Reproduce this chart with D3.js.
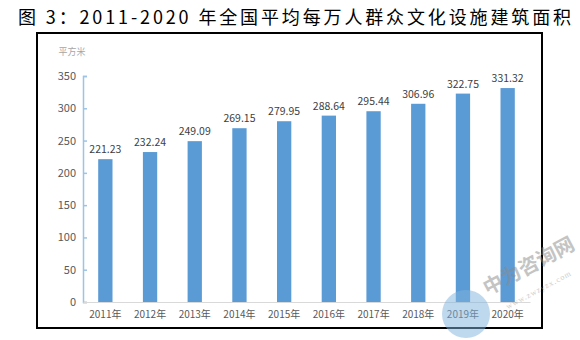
<!DOCTYPE html>
<html><head><meta charset="utf-8">
<script src="https://cdn.jsdelivr.net/npm/d3@7"></script>
<style>body{margin:0;background:#fff;}svg{display:block;}</style>
</head><body>
<script>
const years = ["2011年","2012年","2013年","2014年","2015年","2016年","2017年","2018年","2019年","2020年"];
const values = [221.23,232.24,249.09,269.15,279.95,288.64,295.44,306.96,322.75,331.32];
const yTicks = [0,50,100,150,200,250,300,350];
const title = "图 3：2011-2020 年全国平均每万人群众文化设施建筑面积";
const unit = "平方米";

const W = 580, H = 340;
const svg = d3.select("body").append("svg").attr("width", W).attr("height", H);
const font = "'Noto Sans CJK SC', 'Noto Sans', sans-serif";

svg.append("text").attr("x", 18).attr("y", 24)
  .attr("textLength", 553).attr("lengthAdjust", "spacing")
  .attr("font-family", font).attr("font-size", 18).attr("fill", "#000")
  .text(title);

svg.append("rect").attr("x", 37).attr("y", 33).attr("width", 505).attr("height", 295)
  .attr("fill", "none").attr("stroke", "#000").attr("stroke-width", 2);

const x = d3.scaleBand().domain(years).range([83, 530]).paddingInner(0.68).paddingOuter(0.34);
const y = d3.scaleLinear().domain([0, 350]).range([302, 76]);

// y axis
const ya = svg.append("g").attr("transform", "translate(83,0)")
  .call(d3.axisRight(y).tickValues(yTicks).tickSize(4).tickFormat(""));
ya.select(".domain").attr("stroke", "#9DC3E6").attr("stroke-width", 1.5);
ya.selectAll(".tick line").attr("stroke", "#9DC3E6").attr("stroke-width", 1.5);
svg.selectAll(".ylab").data(yTicks).join("text")
  .attr("x", 76).attr("y", d => y(d) + 4).attr("text-anchor", "end")
  .attr("font-family", font).attr("font-size", 11).attr("fill", "#595959")
  .text(d => d);

svg.append("text").attr("x", 72).attr("y", 55).attr("text-anchor", "middle")
  .attr("font-family", font).attr("font-size", 9).attr("fill", "#a6a6a6").text(unit);

// x axis
const xa = svg.append("g").attr("transform", "translate(0,302)")
  .call(d3.axisBottom(x).tickSize(0).tickPadding(9));
xa.select(".domain").attr("stroke", "#d9d9d9").attr("stroke-width", 1);
xa.selectAll("text").attr("font-family", font).attr("font-size", 10).attr("fill", "#595959");

// bars
svg.selectAll(".bar").data(values).join("rect")
  .attr("x", (d, i) => x(years[i])).attr("width", x.bandwidth())
  .attr("y", d => y(d)).attr("height", d => y(0) - y(d))
  .attr("fill", "#5B9BD5");

svg.selectAll(".val").data(values).join("text")
  .attr("x", (d, i) => x(years[i]) + x.bandwidth() / 2).attr("y", d => y(d) - 6)
  .attr("text-anchor", "middle").attr("font-family", font).attr("font-size", 10.5)
  .attr("fill", "#404040").text(d => d.toFixed(2));

// watermark
const wm = svg.append("g").attr("opacity", 0.5);
wm.append("circle").attr("cx", 466).attr("cy", 314).attr("r", 24).attr("fill", "#7fb3dd");
wm.append("text").attr("transform", "translate(532,272) rotate(-28)").attr("text-anchor", "middle")
  .attr("font-family", "'Noto Sans CJK SC', serif").attr("font-weight", "bold").attr("font-size", 20)
  .attr("fill", "#8a8a8a").text("中为咨询网");
wm.append("text").attr("transform", "translate(540,292) rotate(-28)").attr("text-anchor", "middle")
  .attr("font-family", "serif").attr("font-size", 8).attr("letter-spacing", 1)
  .attr("fill", "#999").text("www.zwzyzx.com");
</script>
</body></html>
